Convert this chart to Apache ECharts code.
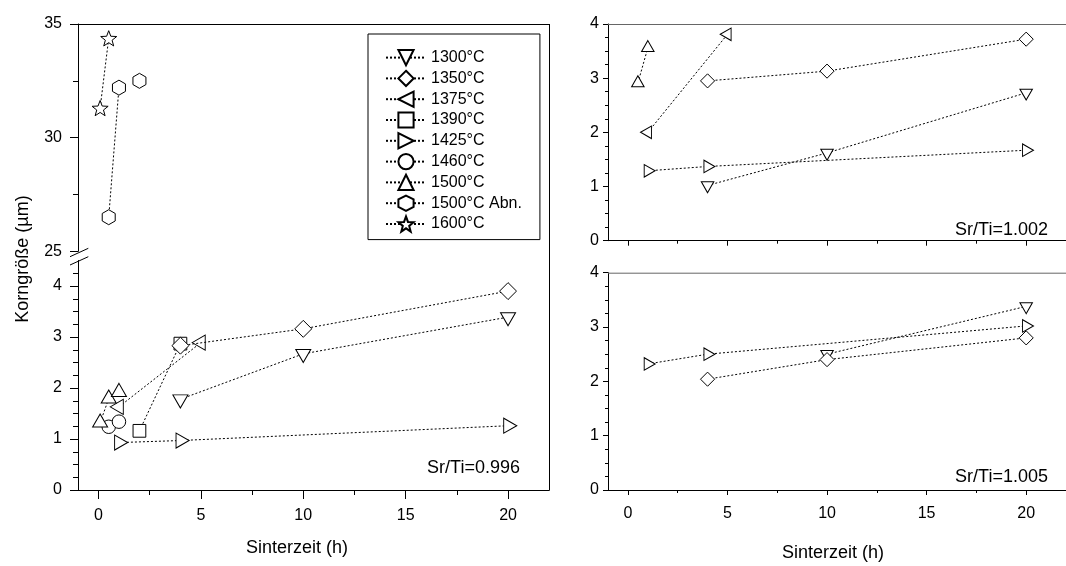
<!DOCTYPE html>
<html><head><meta charset="utf-8">
<script src="https://cdn.jsdelivr.net/npm/echarts@6/dist/echarts.min.js"></script>
<style>html,body{margin:0;padding:0;background:#fff}#c{width:1066px;height:566px}</style>
</head><body><div id="c"></div>
<script>
// ---------- data ----------
const names = ['1300°C','1350°C','1375°C','1390°C','1425°C','1460°C','1500°C','1500°C Abn.','1600°C'];
// Sr/Ti = 0.996 (left panel)
const a1300 = [[4,1.78],[10,2.67],[20,3.39]];
const a1350 = [[4,2.83],[10,3.16],[20,3.90]];
const a1375 = [[1,1.63],[5,2.89]];
const a1390 = [[2,1.16],[4,2.87]];
const a1425 = [[1,0.93],[4,0.97],[20,1.26]];
const a1460 = [[0.5,1.24],[1,1.34]];
const a1500 = [[0.08,1.32],[0.5,1.79],[1,1.92]];
const a1500abn = [[0.5,26.5],[1,32.2]];
const a1500abnSingle = [[2,32.5]];
const a1600 = [[0.08,31.3],[0.5,34.37]];
// Sr/Ti = 1.002 (right top)
const b1300 = [[4,1.02],[10,1.62],[20,2.73]];
const b1350 = [[4,2.95],[10,3.13],[20,3.72]];
const b1375 = [[1,2.0],[5,3.81]];
const b1425 = [[1,1.29],[4,1.37],[20,1.67]];
const b1500 = [[0.5,2.91],[1,3.56]];
// Sr/Ti = 1.005 (right bottom)
const c1300 = [[10,2.50],[20,3.38]];
const c1350 = [[4,2.04],[10,2.40],[20,2.80]];
const c1425 = [[1,2.32],[4,2.50],[20,3.02]];
// ticks
const xTicks = [0,5,10,15,20];
const xMinor = [2.5,7.5,12.5,17.5];
const yUpTicks = [25,30,35];
const yUpMinor = [27.5,32.5];
const yLowTicks = [0,1,2,3,4];
const yLowMinor = [0.25,0.5,0.75,1.25,1.5,1.75,2.25,2.5,2.75,3.25,3.5,3.75,4.25];
const yRTicks = [0,1,2,3,4];
const yRMinor = [0.25,0.5,0.75,1.25,1.5,1.75,2.25,2.5,2.75,3.25,3.5,3.75];
const labels = ['Sr/Ti=0.996','Sr/Ti=1.002','Sr/Ti=1.005'];
const xTitle = 'Sinterzeit (h)';
const yTitle = 'Korngröße (µm)';

// ---------- styles ----------
const FONT = '"Liberation Sans", Arial, Helvetica, sans-serif';
const HEX = 'path://M0,-1 L0.866,-0.5 L0.866,0.5 L0,1 L-0.866,0.5 L-0.866,-0.5 Z';
const STAR = 'path://M0,-1 L0.247,-0.34 L0.951,-0.309 L0.399,0.13 L0.588,0.809 L0,0.42 L-0.588,0.809 L-0.399,0.13 L-0.951,-0.309 L-0.247,-0.34 Z';
const sym = {
  '1300°C': {symbol:'triangle', rot:180, off:[0,1], tri:true},
  '1350°C': {symbol:'diamond', rot:0, off:[0,0], k:1.13},
  '1375°C': {symbol:'triangle', rot:90, off:[-1,0], tri:true},
  '1390°C': {symbol:'rect', rot:0, off:[0,0], k:0.85},
  '1425°C': {symbol:'triangle', rot:-90, off:[1,0], tri:true},
  '1460°C': {symbol:'circle', rot:0, off:[0,0], k:0.9},
  '1500°C': {symbol:'triangle', rot:0, off:[0,-1], tri:true},
  '1500°C Abn.': {symbol:HEX, rot:0, off:[0,0], k:1},
  '1600°C': {symbol:STAR, rot:0, off:[0,0], k:1.07}
};
function mk(name, data, gi, big, z) {
  const s = sym[name];
  const base = big ? 15 : 12.5;
  let size, off;
  if (s.tri) {
    const w = base, h = base * 0.87;
    size = [w, h];
    off = [s.off[0] * h / 6, s.off[1] * h / 6];
  } else {
    size = base * s.k; off = [0,0];
  }
  return {
    type:'line', name, data, xAxisIndex:gi, yAxisIndex:gi,
    symbol:s.symbol, symbolSize:size, symbolRotate:s.rot, symbolOffset:off,
    symbolKeepAspect:true, showSymbol:true, z: z || 2,
    lineStyle:{color:'#000', width:1, type:[2,2]},
    itemStyle:{color:'#fff', borderColor:'#000', borderWidth:1},
    emphasis:{disabled:true}, animation:false
  };
}

const series = [
  mk('1300°C', a1300, 1, true), mk('1350°C', a1350, 1, true, 3), mk('1375°C', a1375, 1, true),
  mk('1390°C', a1390, 1, true), mk('1425°C', a1425, 1, true), mk('1460°C', a1460, 1, true),
  mk('1500°C', a1500, 1, true), mk('1500°C Abn.', a1500abn, 0, true), mk('1500°C Abn.', a1500abnSingle, 0, true),
  mk('1600°C', a1600, 0, true),
  mk('1300°C', b1300, 2, false), mk('1350°C', b1350, 2, false), mk('1375°C', b1375, 2, false),
  mk('1425°C', b1425, 2, false), mk('1500°C', b1500, 2, false),
  mk('1300°C', c1300, 3, false), mk('1350°C', c1350, 3, false), mk('1425°C', c1425, 3, false)
];

// ---------- layout ----------
const rects = [
  {left:78, top:24, width:471, height:227.3},
  {left:78, top:260.5, width:471, height:229.5},
  {left:608, top:24, width:470, height:216.7},
  {left:608, top:272.7, width:470, height:217.3}
];
const grids = rects.concat(rects).map(r => Object.assign({containLabel:false}, r));
const BL = {color:'#000', width:1};
function xAx(gi, o) {
  return {
    type:'value', gridIndex:gi, min:-1, max:22, position:'bottom',
    axisLine:{show:o.line, onZero:false, lineStyle:BL},
    axisTick:{show:o.ticks !== null, length:o.len || 5, customValues:o.ticks || [], lineStyle:BL},
    axisLabel:{show:!!o.label, customValues:o.ticks || [], margin:o.margin || 12, fontSize:16, color:'#000', fontFamily:FONT},
    splitLine:{show:false}
  };
}
function yAx(gi, min, max, o) {
  return {
    type:'value', gridIndex:gi, min, max, position:'left',
    axisLine:{show:o.line, onZero:false, lineStyle:BL},
    axisTick:{show:true, length:o.len, customValues:o.ticks, lineStyle:BL},
    axisLabel:{show:!!o.label, customValues:o.ticks, margin:o.margin || 10, fontSize:16, color:'#000', fontFamily:FONT},
    splitLine:{show:false}
  };
}
const xAxis = [
  xAx(0, {line:false, ticks:null}),
  xAx(1, {line:true, ticks:xTicks, len:9, label:true, margin:17.5}),
  xAx(2, {line:true, ticks:xTicks, len:5}),
  xAx(3, {line:true, ticks:xTicks, len:5, label:true, margin:16}),
  xAx(4, {line:false, ticks:null}),
  xAx(5, {line:false, ticks:xMinor, len:5}),
  xAx(6, {line:false, ticks:xMinor, len:3}),
  xAx(7, {line:false, ticks:xMinor, len:3})
];
const yAxis = [
  yAx(0, 25, 35, {line:true, ticks:yUpTicks, len:8, label:true, margin:16}),
  yAx(1, 0, 4.5, {line:true, ticks:yLowTicks, len:8, label:true, margin:16}),
  yAx(2, 0, 4, {line:true, ticks:yRTicks, len:5, label:true, margin:9}),
  yAx(3, 0, 4, {line:true, ticks:yRTicks, len:5, label:true, margin:9}),
  yAx(4, 25, 35, {line:false, ticks:yUpMinor, len:5}),
  yAx(5, 0, 4.5, {line:false, ticks:yLowMinor, len:5}),
  yAx(6, 0, 4, {line:false, ticks:yRMinor, len:3}),
  yAx(7, 0, 4, {line:false, ticks:yRMinor, len:3})
];

function ln(x1,y1,x2,y2,c){ return {type:'line', silent:true, z:10, shape:{x1,y1,x2,y2}, style:{stroke:c||'#000', lineWidth:1}}; }
function tx(text,x,y,size,align,rot){
  return {type:'text', silent:true, z:10, x, y, rotation:rot||0,
    style:{text, fill:'#000', font:size+'px '+FONT, align, textAlign:align, verticalAlign:'middle', textVerticalAlign:'middle'}};
}
const graphic = [
  ln(78, 24.5, 549.5, 24.5), ln(549.5, 24, 549.5, 490.5),
  ln(608, 24.5, 1066, 24.5, '#666'), ln(608, 273.2, 1066, 273.2, '#666'),
  {type:'rect', silent:true, z:9, shape:{x:74, y:252, width:10, height:8}, style:{fill:'#fff'}},
  ln(70, 256.7, 88.3, 248.3), ln(70, 265, 88.3, 256.7),
  tx(labels[0], 520, 468, 18, 'right'),
  tx(labels[1], 1048, 230, 18, 'right'),
  tx(labels[2], 1048, 477, 18, 'right'),
  tx(xTitle, 297, 548, 18, 'center'),
  tx(xTitle, 833, 553, 18, 'center'),
  tx(yTitle, 23, 259, 18, 'center', Math.PI/2)
];

const chart = echarts.init(document.getElementById('c'), null, {renderer:'canvas'});
chart.setOption({
  animation:false,
  backgroundColor:'#fff',
  textStyle:{fontFamily:FONT},
  grid:grids, xAxis, yAxis, series, graphic,
  legend:{
    data:names, orient:'vertical', left:368, top:34,
    itemWidth:40, itemHeight:19, itemGap:3.6,
    padding:[15, 18, 7, 17],
    borderColor:'#000', borderWidth:1, backgroundColor:'#fff',
    textStyle:{fontSize:16, color:'#000', fontFamily:FONT},
    selectedMode:false, z:20
  }
});
</script>
</body></html>
